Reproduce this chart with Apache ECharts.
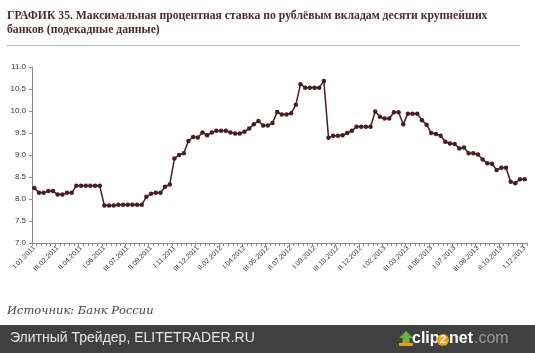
<!DOCTYPE html>
<html>
<head>
<meta charset="utf-8">
<script src="https://cdn.jsdelivr.net/npm/echarts@6/dist/echarts.min.js"></script>
<style>
html,body{margin:0;padding:0;background:#fff;}
#chart{width:535px;height:353px;}
</style>
</head>
<body>
<div id="chart"></div>
<script>
// Dekad categories: I, II, III of each month, from I.01.2011 to I.12.2013
var dekadNames = ['I', 'II', 'III'];
var years = [2011, 2012, 2013];
var categories = [];
years.forEach(function (y) {
  for (var m = 1; m <= 12; m++) {
    for (var d = 0; d < 3; d++) {
      if (y === 2013 && m === 12 && d > 0) continue;
      categories.push(dekadNames[d] + '.' + (m < 10 ? '0' + m : m) + '.' + y);
    }
  }
});

// Max interest rate on ruble deposits, %
var rateValues = [
  8.25, 8.14, 8.14, 8.18, 8.18, 8.10, 8.10, 8.14, 8.14,
  8.30, 8.30, 8.30, 8.30, 8.30, 8.30,
  7.85, 7.85, 7.85,
  7.87, 7.87, 7.87, 7.87, 7.87, 7.87,
  8.05, 8.12, 8.14, 8.14, 8.28, 8.33, 8.92, 9.00, 9.04, 9.32,
  9.41, 9.40, 9.51, 9.45, 9.51, 9.55, 9.55, 9.55, 9.51, 9.49,
  9.49, 9.53, 9.60, 9.70, 9.77, 9.67, 9.67, 9.73, 9.98, 9.92,
  9.92, 9.95, 10.14, 10.61, 10.53, 10.53, 10.53, 10.53, 10.68, 9.39,
  9.44, 9.44, 9.45, 9.50, 9.55, 9.64, 9.64, 9.64, 9.64, 9.99,
  9.87, 9.83, 9.83, 9.97, 9.97, 9.70, 9.94, 9.94, 9.94, 9.79,
  9.69, 9.50, 9.48, 9.44, 9.30, 9.26, 9.25, 9.15, 9.17, 9.04,
  9.04, 9.01, 8.90, 8.81, 8.80, 8.66, 8.71, 8.71, 8.39, 8.36,
  8.45, 8.45
];

var yTicks = [7.0, 7.5, 8.0, 8.5, 9.0, 9.5, 10.0, 10.5, 11.0];

var titleLine1 = 'ГРАФИК 35. Максимальная процентная ставка по рублёвым вкладам десяти крупнейших';
var titleLine2 = 'банков (подекадные данные)';
var sourceText = 'Источник: Банк России';
var footerText = 'Элитный Трейдер, ELITETRADER.RU';

var chart = echarts.init(document.getElementById('chart'), null, {renderer: 'canvas'});
var titleColor = '#4a2c2c';
var lineColor = '#4a1c24';

chart.setOption({
  animation: false,
  backgroundColor: '#ffffff',
  grid: {left: 32, right: 8, top: 67, bottom: 110, containLabel: false},
  xAxis: {
    type: 'category',
    data: categories,
    boundaryGap: true,
    axisLine: {show: true, lineStyle: {color: '#8a8a8a', width: 1}},
    axisTick: {show: true, interval: 0, length: 3, lineStyle: {color: '#8a8a8a'}},
    axisLabel: {
      interval: 4,
      rotate: 45,
      fontSize: 7,
      color: '#333',
      margin: 4,
      fontFamily: 'Liberation Sans, sans-serif'
    },
    splitLine: {show: false}
  },
  yAxis: {
    type: 'value',
    min: yTicks[0],
    max: yTicks[yTicks.length - 1],
    interval: 0.5,
    axisLine: {show: true, lineStyle: {color: '#8a8a8a', width: 1}},
    axisTick: {show: true, length: 3, lineStyle: {color: '#8a8a8a'}},
    axisLabel: {
      fontSize: 8,
      color: '#333',
      margin: 6,
      fontFamily: 'Liberation Sans, sans-serif',
      formatter: function (v) { return v.toFixed(1); }
    },
    splitLine: {show: false}
  },
  series: [{
    type: 'line',
    data: rateValues,
    symbol: 'circle',
    symbolSize: 4.5,
    showSymbol: true,
    showAllSymbol: true,
    lineStyle: {color: lineColor, width: 1.5},
    itemStyle: {color: lineColor}
  }],
  graphic: [
    {type: 'text', left: 7, top: 10, style: {text: titleLine1, fill: titleColor, font: 'bold 11.7px "Liberation Serif", serif'}},
    {type: 'text', left: 7, top: 24, style: {text: titleLine2, fill: titleColor, font: 'bold 11.7px "Liberation Serif", serif'}},
    {type: 'line', shape: {x1: 7, y1: 45.5, x2: 520, y2: 45.5}, style: {stroke: '#b4b4b4', lineWidth: 1}},
    {type: 'text', left: 7, top: 305, style: {text: sourceText, fill: '#444', font: 'italic 11.5px "DejaVu Serif", serif'}},
    {type: 'rect', shape: {x: 0, y: 325, width: 535, height: 28}, style: {fill: '#404040'}},
    {type: 'text', left: 10, top: 331, style: {text: footerText, fill: '#e6e6e6', font: '14px "Liberation Sans", sans-serif'}},
    // clip2net logo
    {type: 'polygon', shape: {points: [[406, 331], [413, 338], [409.5, 338], [409.5, 346], [402.5, 346], [402.5, 338], [399, 338]]}, style: {fill: '#6cb33f'}},
    {type: 'rect', shape: {x: 399, y: 343, width: 14, height: 3}, style: {fill: '#f39c12'}},
    {type: 'text', left: 412, top: 331, style: {text: 'clip', fill: '#ffffff', font: 'bold 16px "Liberation Sans", sans-serif'}},
    {type: 'circle', shape: {cx: 443, cy: 340, r: 6}, style: {fill: '#f39c12'}},
    {type: 'text', x: 443, y: 340, style: {text: '2', fill: '#ffffff', font: 'bold 11px "Liberation Sans", sans-serif', align: 'center', verticalAlign: 'middle'}},
    {type: 'text', left: 449, top: 331, style: {text: 'net', fill: '#ffffff', font: 'bold 16px "Liberation Sans", sans-serif'}},
    {type: 'text', left: 474, top: 331, style: {text: '.com', fill: '#9a9a9a', font: '16px "Liberation Sans", sans-serif'}}
  ]
});
</script>
</body>
</html>
